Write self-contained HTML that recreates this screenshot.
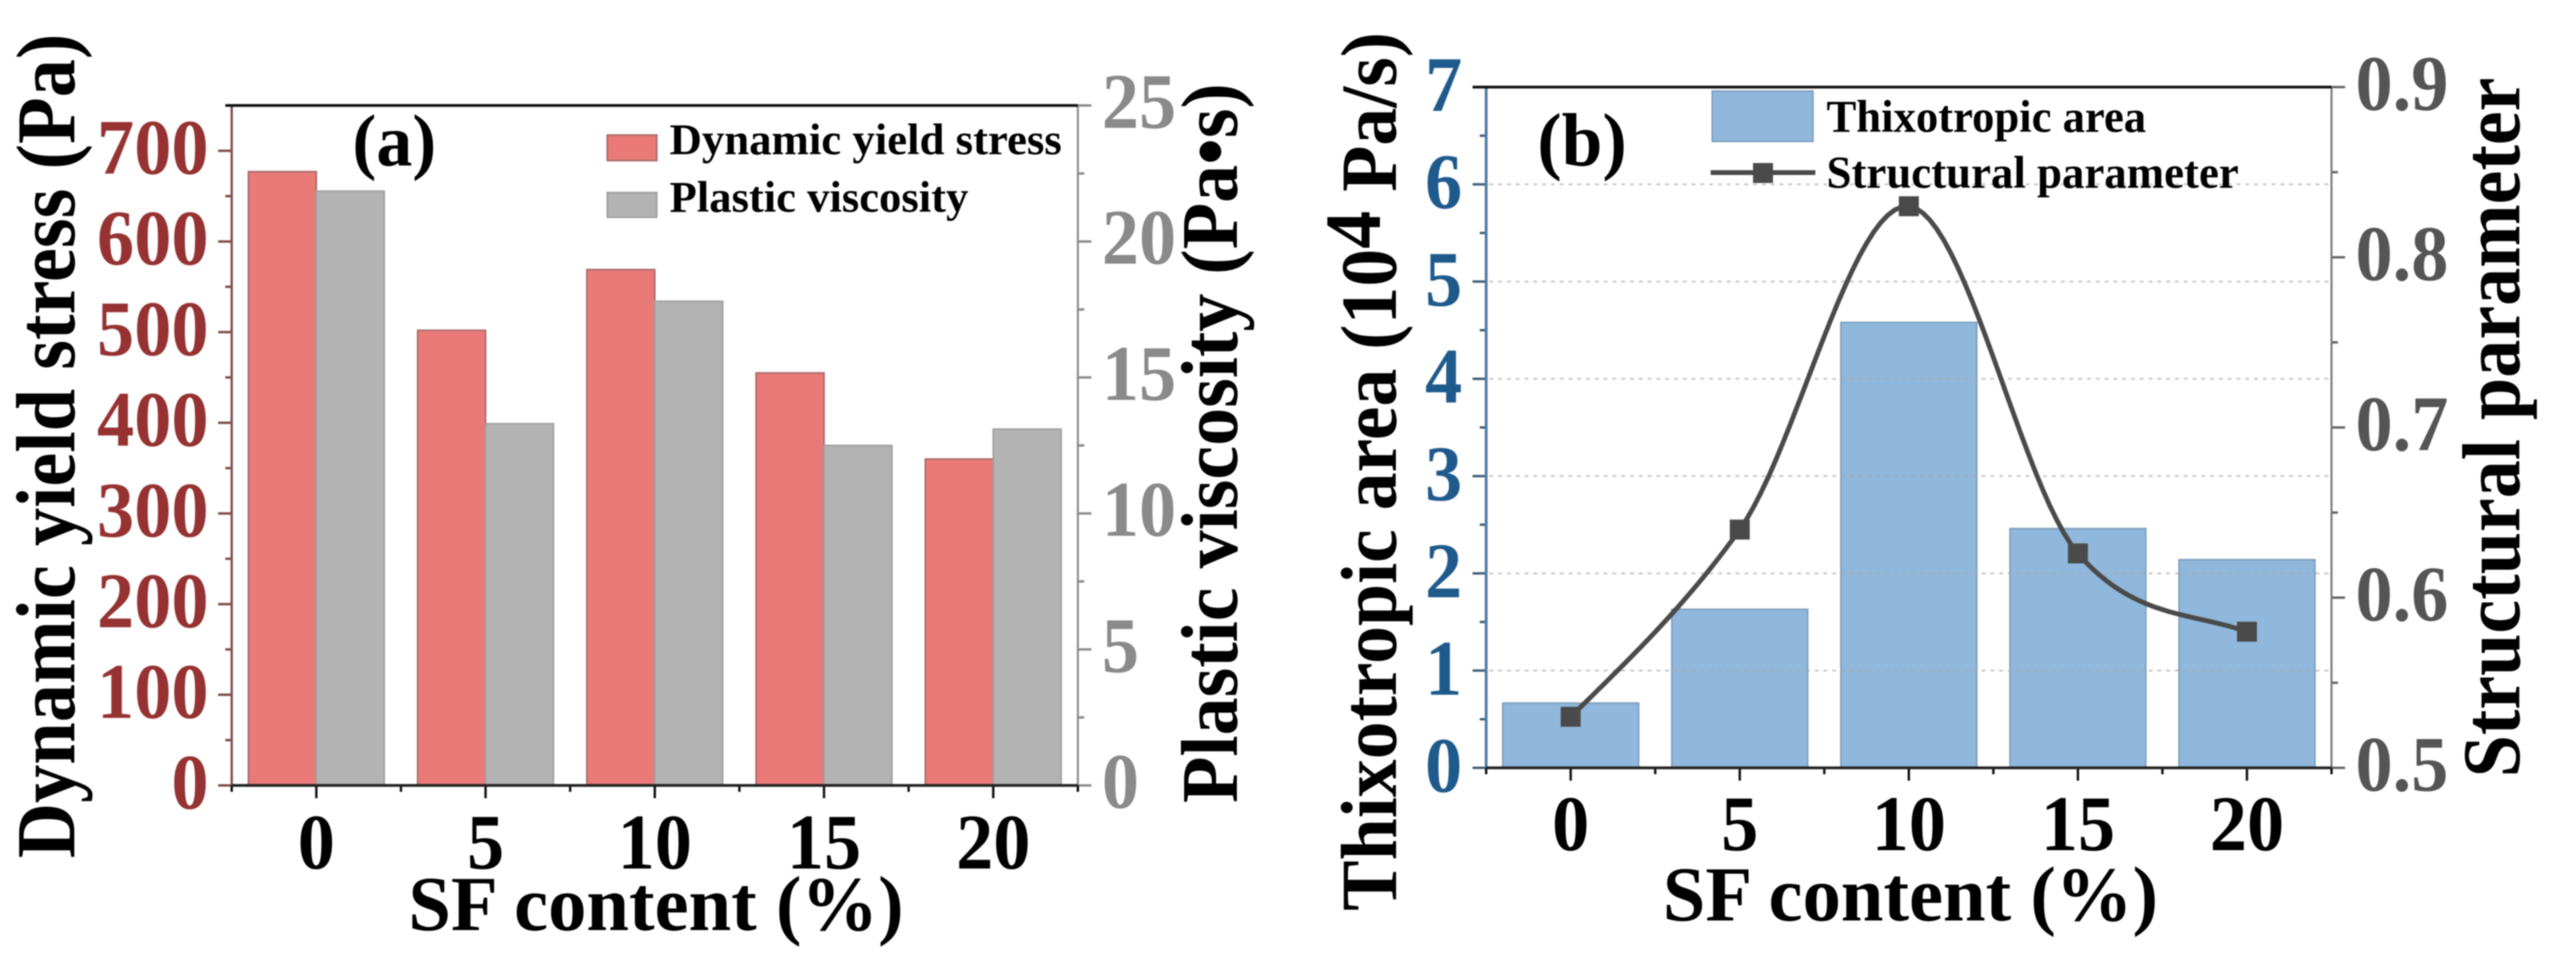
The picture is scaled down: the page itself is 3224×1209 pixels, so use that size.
<!DOCTYPE html>
<html>
<head>
<meta charset="utf-8">
<title>SF content charts</title>
<style>
html,body{margin:0;padding:0;background:#fff;width:3224px;height:1209px;overflow:hidden}
svg{display:block;filter:blur(.8px)}
text{font-family:"Liberation Serif",serif;font-weight:700}
</style>
</head>
<body>
<svg id="fig" width="3224" height="1209" viewBox="0 0 3224 1209" xmlns="http://www.w3.org/2000/svg">
  <rect width="3224" height="1209" fill="#fff"/>
  <g id="a"></g>
  <g id="b"></g>

  <text data-len="105" data-t="translate(441,207)" font-size="92">(a)</text>
  <text data-len="112" data-t="translate(1924,207)" font-size="94">(b)</text>

  <text data-len="1032" data-t="translate(93,1074) rotate(-90)" font-size="105">Dynamic yield stress (Pa)</text>
  <text data-len="901" data-t="translate(1548,1005) rotate(-90)" font-size="101">Plastic viscosity (Pa•s)</text>
  <text data-len="620" data-t="translate(511,1164)" font-size="98">SF content (%)</text>

  <text data-len="1100" data-t="translate(1747,1140) rotate(-90)" font-size="100">Thixotropic area (10<tspan dy="-20">4</tspan><tspan dy="20"> Pa/s)</tspan></text>
  <text data-len="876" data-t="translate(3153,973) rotate(-90)" font-size="103">Structural parameter</text>
  <text data-len="620" data-t="translate(2081,1152)" font-size="98">SF content (%)</text>

  <g>
    <rect x="760" y="169" width="62" height="32" fill="#e97a78" stroke="#a86a6a" stroke-width="2"/>
    <text data-len="491" data-t="translate(838,193)" font-size="55">Dynamic yield stress</text>
    <rect x="760" y="241" width="62" height="31" fill="#b3b3b3" stroke="#a0a0a0" stroke-width="2"/>
    <text data-len="374" data-t="translate(838,265)" font-size="55">Plastic viscosity</text>
  </g>
  <g id="legend-b"></g>
</svg>
<script>
// ---------- data ----------
const categories = ["0", "5", "10", "15", "20"];
const yieldStress = [677, 502, 569, 455, 360];
const plasticViscosity = [21.85, 13.3, 17.8, 12.5, 13.1];
const thixotropicArea = [0.666, 1.63, 4.58, 2.46, 2.14];
const structuralParameter = [0.53, 0.64, 0.83, 0.626, 0.58];
// curve slope at each point, in parameter units per category step
const structuralSlopes = [0.098, 0.139, -0.01, -0.115, -0.035];
const yieldTicks = ["0", "100", "200", "300", "400", "500", "600", "700"];
const viscosityTicks = ["0", "5", "10", "15", "20", "25"];
const areaTicks = ["0", "1", "2", "3", "4", "5", "6", "7"];
const structTicks = ["0.5", "0.6", "0.7", "0.8", "0.9"];

// ---------- helpers ----------
const NS = "http://www.w3.org/2000/svg";
function mk(parent, tag, props) {
  const el = document.createElementNS(NS, tag);
  for (const k in props) el.setAttribute(k, props[k]);
  parent.appendChild(el);
  return el;
}
function hline(parent, x1, x2, y, color, w) {
  return mk(parent, "line", { x1: x1, x2: x2, y1: y, y2: y, stroke: color, "stroke-width": w });
}
function vline(parent, x, y1, y2, color, w) {
  return mk(parent, "line", { x1: x, x2: x, y1: y1, y2: y2, stroke: color, "stroke-width": w });
}
function label(parent, str, x, y, color, anchor) {
  const t = mk(parent, "text", {
    transform: "translate(" + x + "," + y + ") scale(.94,1)",
    fill: color, "font-size": 99, "text-anchor": anchor
  });
  t.textContent = str;
  return t;
}
function linear(d0, d1, r0, r1) {
  return v => r0 + (v - d0) / (d1 - d0) * (r1 - r0);
}
function band(left, right, n) {
  const step = (right - left) / n;
  return i => left + step * (i + 0.5);
}
// cubic Hermite curve through equally spaced values with given slopes
function hermite(ys, ms) {
  const n = ys.length - 1;
  return t => {
    const i = Math.min(Math.floor(t), n - 1), u = t - i, u2 = u * u, u3 = u2 * u;
    return (2 * u3 - 3 * u2 + 1) * ys[i] + (u3 - 2 * u2 + u) * ms[i] +
           (-2 * u3 + 3 * u2) * ys[i + 1] + (u3 - u2) * ms[i + 1];
  };
}

// ---------- chart (a) ----------
const A = { left: 290, right: 1349, top: 132, bottom: 983 };
const gA = document.getElementById("a");
const xA = band(A.left, A.right, categories.length);
const yA = linear(0, 750, A.bottom, A.top);
const yA2 = linear(0, 25, A.bottom, A.top);
const barWA = 85;

categories.forEach((c, i) => {
  const r = mk(gA, "rect", {
    x: xA(i) - barWA, y: yA(yieldStress[i]), width: barWA,
    height: A.bottom - yA(yieldStress[i]), fill: "#e97a78", stroke: "#a86a6a", "stroke-width": 2
  });
  
  
  const g = mk(gA, "rect", {
    x: xA(i), y: yA2(plasticViscosity[i]), width: barWA,
    height: A.bottom - yA2(plasticViscosity[i]), fill: "#b3b3b3", stroke: "#a0a0a0", "stroke-width": 2
  });
  
  
});

for (let v = 0; v <= 750; v += 50) {
  const major = v % 100 === 0;
  const t = hline(gA, A.left - (major ? 17 : 8), A.left, yA(v), "#7d4a4a", 3);
  
  
}
for (let v = 0; v <= 25; v += 2.5) {
  const major = v % 5 === 0;
  const t = hline(gA, A.right, A.right + (major ? 17 : 8), yA2(v), "#8a8a8a", 3);
  
  
}
yieldTicks.forEach(s => {
  const t = label(gA, s, 261, yA(+s) + 29, "#963232", "end");
  
  
});
viscosityTicks.forEach(s => {
  const t = label(gA, s, 1379, yA2(+s) + 28, "#8a8a8a", "start");
  
  
});
categories.forEach((c, i) => {
  const t = label(gA, c, xA(i), 1087, "#000", "middle");
  
  
  const k = vline(gA, xA(i), A.bottom, A.bottom + 16, "#111", 3);
  
  
});
for (let i = 0; i <= categories.length; i++) {
  const k = vline(gA, xA(i) - (A.right - A.left) / categories.length / 2, A.bottom, A.bottom + 8, "#111", 3);
  
  
}
const axLA = vline(gA, A.left, A.top, A.bottom, "#8a4f4f", 3);


const axRA = vline(gA, A.right, A.top, A.bottom, "#8a8a8a", 2.5);


const axTA = hline(gA, A.left - 8, A.right, A.top, "#111", 3.5);


const axBA = hline(gA, A.left, A.right, A.bottom, "#222", 3.5);



// ---------- chart (b) ----------
const B = { left: 1860, right: 2918, top: 109, bottom: 961 };
const gB = document.getElementById("b");
const xB = band(B.left, B.right, categories.length);
const yB = linear(0, 7, B.bottom, B.top);
const yB2 = linear(0.5, 0.9, B.bottom, B.top);
const barWB = 170;

categories.forEach((c, i) => {
  const r = mk(gB, "rect", {
    x: xB(i) - barWB / 2, y: yB(thixotropicArea[i]), width: barWB,
    height: B.bottom - yB(thixotropicArea[i]), fill: "#90b8dc", stroke: "#7f9fbd", "stroke-width": 2
  });
  
  
});
areaTicks.forEach(s => {
  const v = +s;
  if (v > 0 && v < 7) {
    const g = hline(gB, B.left + 4, B.right, yB(v), "#a8a8a8", 2.5);
    g.setAttribute("stroke-dasharray", "5 6");
    g.setAttribute("opacity", ".55");
    
    
  }
});
for (let v = 0; v <= 7; v += 0.5) {
  const major = v % 1 === 0;
  const t = hline(gB, B.left - (major ? 17 : 8), B.left, yB(v), "#3f5d78", 3);
  
  
}
for (let i = 0; i <= 8; i++) {
  const v = 0.5 + i * 0.05;
  const t = hline(gB, B.right, B.right + (i % 2 === 0 ? 17 : 8), yB2(v), "#666", 3);
  
  
}
areaTicks.forEach(s => {
  const t = label(gB, s, 1830, yB(+s) + 30, "#1f5a8c", "end");
  
  
});
structTicks.forEach(s => {
  const t = label(gB, s, 2948, yB2(+s) + 28.5, "#555", "start");
  
  
});
categories.forEach((c, i) => {
  const t = label(gB, c, xB(i), 1064, "#000", "middle");
  
  
  const k = vline(gB, xB(i), B.bottom, B.bottom + 16, "#111", 3);
  
  
});
for (let i = 0; i <= categories.length; i++) {
  const k = vline(gB, xB(i) - (B.right - B.left) / categories.length / 2, B.bottom, B.bottom + 8, "#111", 3);
  
  
}
const axLB = vline(gB, B.left, B.top, B.bottom, "#4d7ba3", 3.5);


const axRB = vline(gB, B.right, B.top, B.bottom, "#777", 2.5);


const axTB = hline(gB, B.left - 17, B.right, B.top, "#111", 3.5);


const axBB = hline(gB, B.left, B.right, B.bottom, "#222", 3.5);



// curve through the structural parameter points
const sp = hermite(structuralParameter, structuralSlopes);
let d = "";
const steps = (categories.length - 1) * 24;
for (let s = 0; s <= steps; s++) {
  const t = s / 24;
  const px = xB(0) + (xB(1) - xB(0)) * t;
  d += (s ? "L" : "M") + px.toFixed(1) + " " + yB2(sp(t)).toFixed(1);
}
const line = mk(gB, "path", { d: d, fill: "none", stroke: "#4a4a4a", "stroke-width": 6 });


structuralParameter.forEach((v, i) => {
  const m = mk(gB, "rect", { x: xB(i) - 12.5, y: yB2(v) - 12.5, width: 25, height: 25, fill: "#4a4a4a" });
  
  
});

// legend b (drawn above the gridlines)
const lb = document.getElementById("legend-b");
const sw = mk(lb, "rect", { x: 2143, y: 114, width: 126, height: 63, fill: "#90b8dc", stroke: "#7f9fbd", "stroke-width": 2 });


const t1 = mk(lb, "text", { "font-size": 57, "data-len": 400, "data-t": "translate(2286,165)" });
t1.textContent = "Thixotropic area";


const ll = hline(lb, 2141, 2272, 216, "#4a4a4a", 6);


const lm = mk(lb, "rect", { x: 2194, y: 204, width: 25, height: 25, fill: "#4a4a4a" });


const t2 = mk(lb, "text", { "font-size": 57, "data-len": 516, "data-t": "translate(2286,235)" });
t2.textContent = "Structural parameter";



// fit fixed-length text horizontally
document.querySelectorAll("[data-len]").forEach(el => {
  const w = el.getComputedTextLength();
  const s = (+el.getAttribute("data-len")) / w;
  el.setAttribute("transform", el.getAttribute("data-t") + " scale(" + s.toFixed(4) + ",1)");
});
</script>
</body>
</html>
